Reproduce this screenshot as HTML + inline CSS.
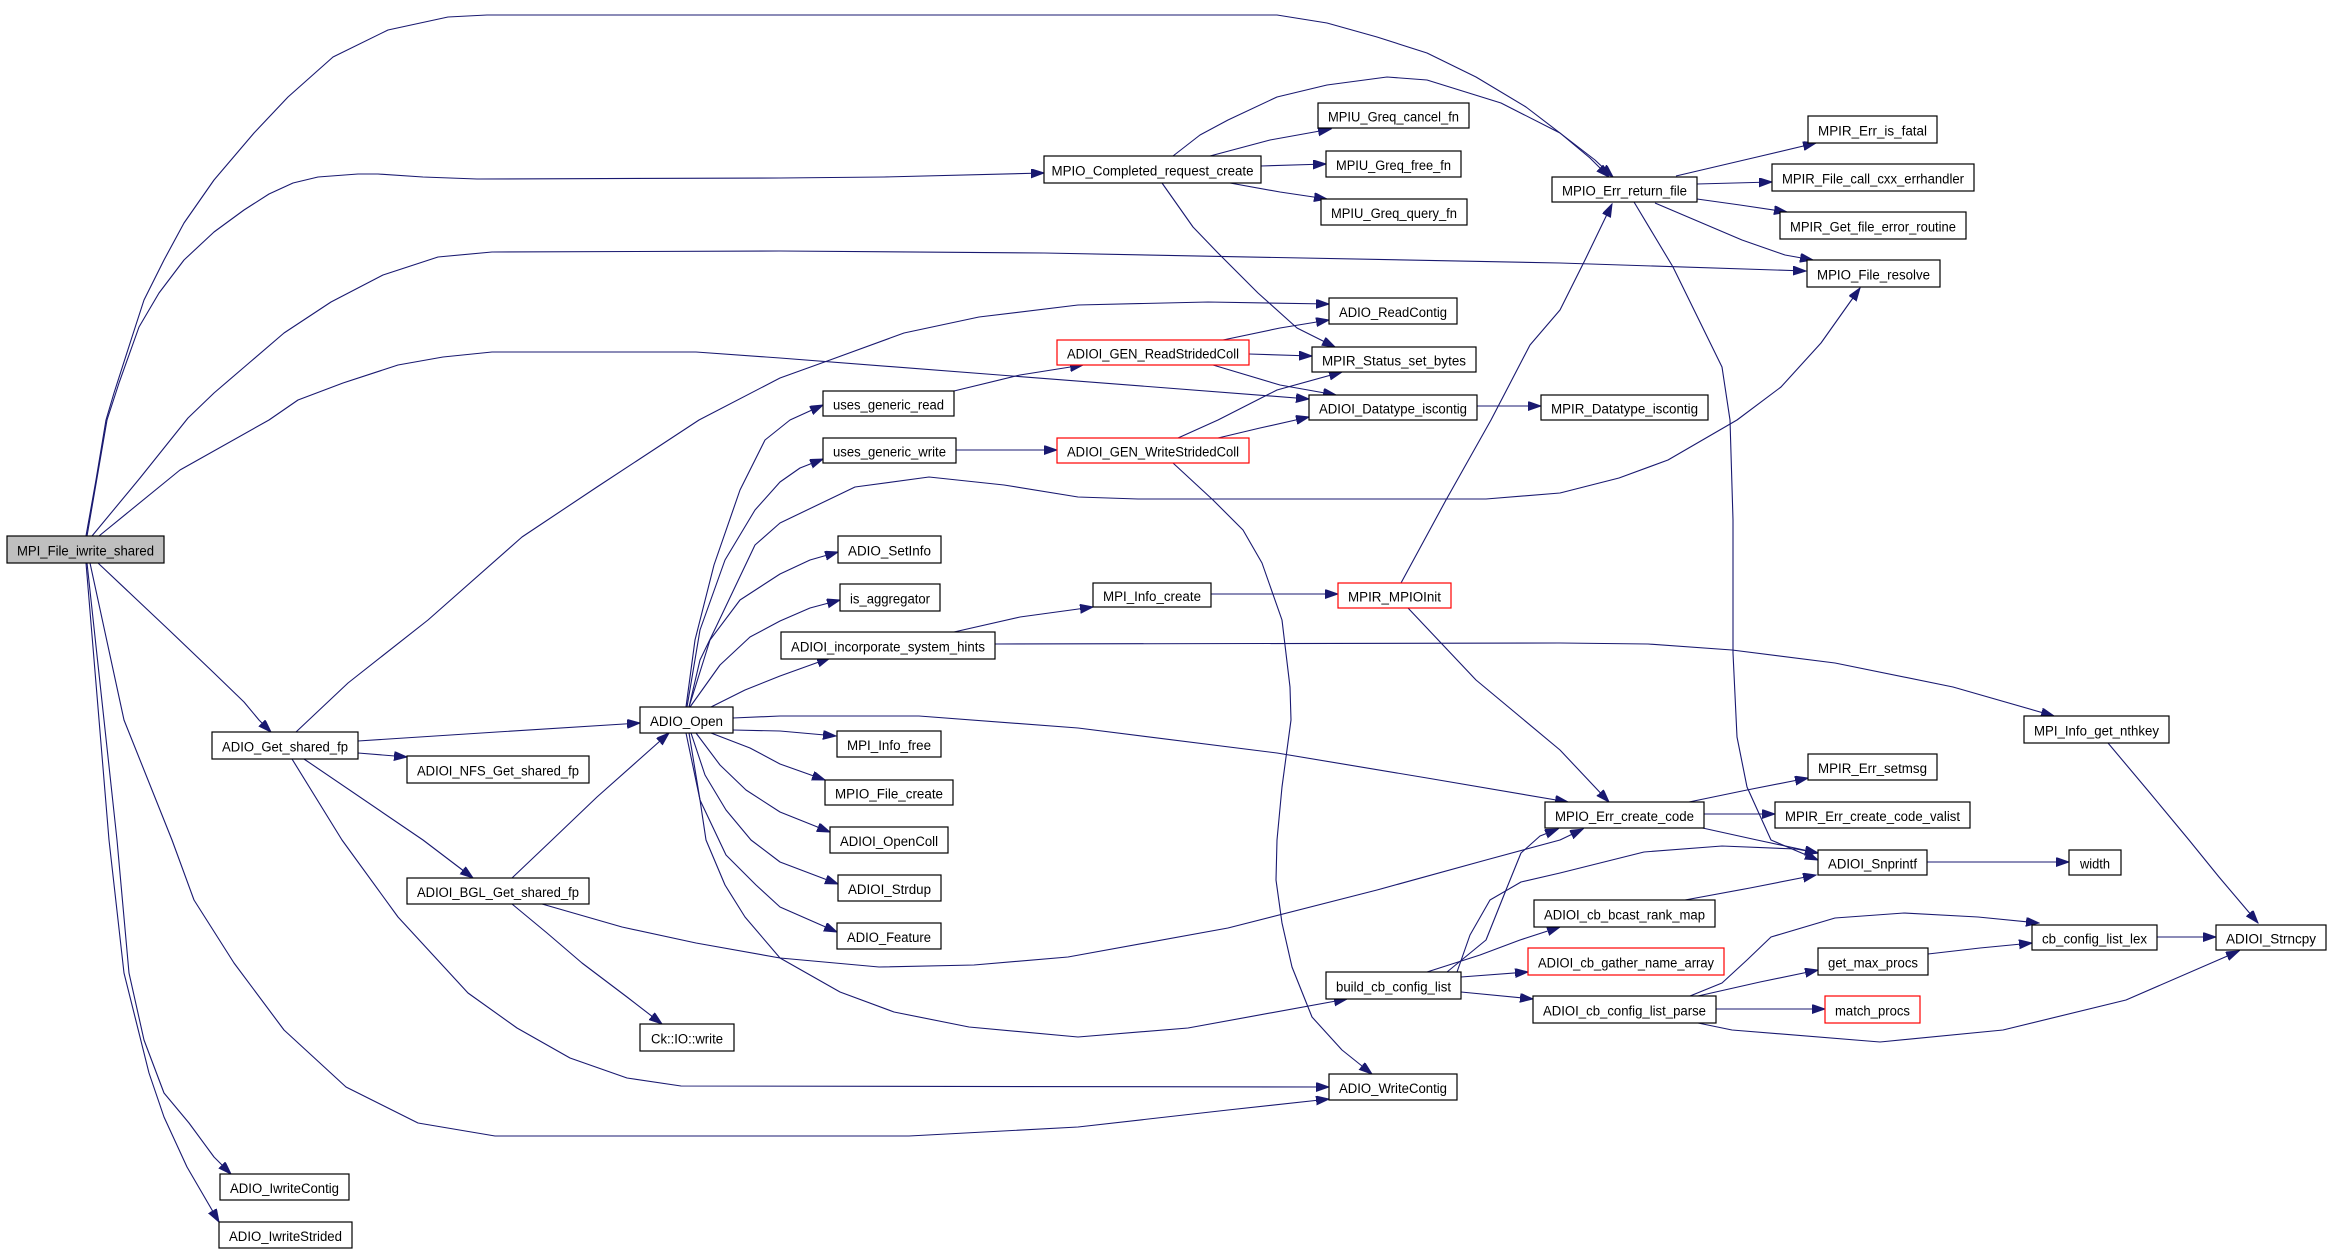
<!DOCTYPE html>
<html><head><meta charset="utf-8"><style>
html,body{margin:0;padding:0;background:#fff;}
svg{display:block;}
text{font-family:"Liberation Sans",Arial,sans-serif;font-size:13.5px;fill:#000;text-anchor:middle;}
</style></head><body>
<svg width="2331" height="1251" viewBox="0 0 2331 1251" xmlns="http://www.w3.org/2000/svg">
<defs>
<marker id="a" markerUnits="userSpaceOnUse" markerWidth="14" markerHeight="10" refX="13" refY="4.5" orient="auto" viewBox="0 0 14 10">
<path d="M0,0 L13,4.5 L0,9 z" fill="#191970" stroke="#191970" stroke-width="1"/>
</marker>
</defs>
<rect width="2331" height="1251" fill="#fff"/>
<g fill="none" stroke="#191970" stroke-width="1.1" stroke-linejoin="round" marker-end="url(#a)">
<!-- MPI_File_iwrite_shared edges -->
<path d="M86,536 L96,480 L106,420 L114,393 L132,337 L144,300 L164,260 L184,223 L214,180 L254,133 L288,97 L333,57 L388,30 L448,17 L487,15 L1277,15 L1327,23 L1377,37 L1427,53 L1476,77 L1526,107 L1560,133 L1590,158 L1609,177"/>
<path d="M87,536 L107,420 L119,383 L139,327 L159,293 L184,260 L214,232 L244,210 L269,194 L293,183 L318,177 L358,174 L378,174 L423,177 L477,179 L780,178 L884,177 L1044,173"/>
<path d="M92,536 L140,478 L188,418 L214,393 L249,363 L284,333 L331,302 L383,275 L438,257 L492,252 L780,251 L1044,253 L1560,263 L1806,271"/>
<path d="M99,536 L180,470 L269,420 L298,400 L343,383 L398,365 L443,357 L492,352 L696,352 L766,357 L780,358 L1309,399"/>
<path d="M98,563 L169,630 L214,673 L244,702 L259,720 L271,732"/>
<path d="M90,563 L124,720 L172,840 L194,900 L234,963 L284,1030 L346,1087 L418,1123 L495,1136 L909,1136 L1078,1127 L1228,1110 L1329,1099"/>
<path d="M87,563 L117,840 L129,973 L144,1040 L164,1093 L189,1123 L214,1157 L231,1174"/>
<path d="M86,563 L109,840 L124,973 L149,1073 L164,1117 L187,1167 L219,1222"/>
<!-- ADIO_Get_shared_fp -->
<path d="M358,741 L497,732 L640,723"/>
<path d="M358,753 L407,757"/>
<path d="M304,759 L423,840 L473,878"/>
<path d="M292,759 L342,840 L398,917 L468,993 L517,1028 L570,1058 L627,1078 L681,1086 L1329,1087"/>
<path d="M296,732 L348,683 L428,620 L522,537 L597,487 L699,420 L780,378 L830,360 L904,333 L979,317 L1078,305 L1208,302 L1329,304"/>
<!-- ADIOI_BGL_Get_shared_fp -->
<path d="M512,878 L552,840 L597,797 L669,733"/>
<path d="M512,904 L547,933 L582,963 L627,997 L662,1024"/>
<path d="M542,904 L622,927 L696,943 L780,958 L879,967 L974,965 L1068,957 L1228,928 L1377,890 L1486,860 L1560,840 L1583,829"/>
<!-- ADIO_Open -->
<path d="M686,707 L695,640 L714,565 L740,490 L765,440 L790,420 L823,405"/>
<path d="M687,707 L700,630 L725,560 L755,510 L780,482 L800,468 L823,459"/>
<path d="M689,707 L710,640 L740,600 L780,574 L810,560 L838,552"/>
<path d="M690,707 L720,665 L750,637 L780,621 L810,608 L840,600"/>
<path d="M711,707 L745,690 L780,676 L830,658"/>
<path d="M733,730 L780,731 L836,736"/>
<path d="M711,733 L750,748 L780,764 L825,780"/>
<path d="M696,733 L720,765 L746,790 L780,812 L830,832"/>
<path d="M691,733 L705,775 L726,810 L751,840 L780,862 L838,884"/>
<path d="M689,733 L700,800 L726,855 L756,885 L780,907 L837,932"/>
<path d="M686,733 L700,800 L706,840 L725,885 L745,917 L780,958 L840,992 L894,1012 L969,1027 L1078,1037 L1188,1028 L1347,999"/>
<path d="M733,718 L780,716 L919,716 L1078,728 L1277,753 L1427,778 L1568,802"/>
<path d="M689,707 L700,660 L716,627 L755,545 L780,523 L855,487 L929,477 L1004,485 L1078,497 L1138,499 L1486,499 L1560,493 L1619,478 L1668,460 L1737,420 L1781,387 L1821,343 L1860,288"/>
<!-- middle -->
<path d="M954,391 L1020,375 L1083,365"/>
<path d="M956,450 L1057,450"/>
<path d="M1223,340 L1280,328 L1329,320"/>
<path d="M1249,354 L1312,356"/>
<path d="M1213,365 L1280,385 L1336,395"/>
<path d="M1178,438 L1218,420 L1277,390 L1342,372"/>
<path d="M1218,438 L1260,428 L1309,417"/>
<path d="M1173,463 L1213,500 L1243,530 L1262,563 L1282,620 L1290,687 L1291,720 L1282,787 L1277,840 L1276,880 L1282,923 L1292,967 L1312,1017 L1342,1050 L1372,1074"/>
<path d="M1210,156 L1270,140 L1331,129"/>
<path d="M1261,166 L1326,164"/>
<path d="M1230,183 L1280,192 L1327,199"/>
<path d="M1173,156 L1200,135 L1228,120 L1277,97 L1327,85 L1387,77 L1427,80 L1501,103 L1560,133 L1595,160 L1613,177"/>
<path d="M1162,183 L1193,227 L1218,253 L1258,293 L1297,328 L1335,347"/>
<path d="M1477,406 L1541,406"/>
<path d="M1211,594 L1338,594"/>
<path d="M954,632 L1020,617 L1093,607"/>
<path d="M995,644 L1560,643 L1648,644 L1732,650 L1835,663 L1953,687 L2054,716"/>
<path d="M1401,583 L1446,500 L1491,420 L1530,345 L1560,310 L1585,260 L1612,204"/>
<path d="M1408,608 L1476,680 L1560,750 L1609,802"/>
<!-- right -->
<path d="M2108,743 L2150,793 L2189,840 L2219,877 L2258,923"/>
<path d="M1689,802 L1747,790 L1808,778"/>
<path d="M1704,814 L1775,814"/>
<path d="M1698,827 L1757,840 L1818,853"/>
<path d="M1927,862 L2069,862"/>
<path d="M1634,202 L1673,267 L1722,367 L1730,420 L1733,520 L1733,653 L1737,737 L1747,787 L1771,840 L1818,860"/>
<path d="M1676,176 L1757,157 L1816,143"/>
<path d="M1697,184 L1772,182"/>
<path d="M1697,199 L1740,205 L1787,212"/>
<path d="M1655,203 L1742,240 L1785,255 L1813,260"/>
<path d="M1447,972 L1486,940 L1506,890 L1521,853 L1540,836 L1558,829"/>
<path d="M1457,972 L1470,935 L1490,900 L1521,882 L1560,873 L1644,852 L1722,846 L1796,849 L1818,853"/>
<path d="M1427,972 L1480,955 L1520,940 L1560,927"/>
<path d="M1461,977 L1528,972"/>
<path d="M1461,992 L1533,999"/>
<path d="M1685,900 L1750,888 L1816,875"/>
<path d="M1698,996 L1760,982 L1818,970"/>
<path d="M1716,1009 L1825,1009"/>
<path d="M1690,996 L1722,983 L1747,960 L1771,937 L1835,918 L1904,913 L1978,917 L2039,923"/>
<path d="M1698,1023 L1732,1030 L1880,1042 L2003,1030 L2126,1000 L2239,951"/>
<path d="M1928,954 L1980,948 L2032,943"/>
<path d="M2157,937 L2216,937"/>
</g>
<g stroke="#000" stroke-width="1.2" fill="#fff">
<rect x="7" y="536" width="157" height="27" fill="#bfbfbf"/>
<rect x="212" y="732" width="146" height="27"/>
<rect x="407" y="756" width="182" height="27"/>
<rect x="407" y="878" width="182" height="26"/>
<rect x="640" y="707" width="93" height="26"/>
<rect x="640" y="1024" width="94" height="27"/>
<rect x="220" y="1174" width="129" height="26"/>
<rect x="219" y="1222" width="133" height="26"/>
<rect x="1044" y="156" width="217" height="27"/>
<rect x="1318" y="103" width="151" height="25"/>
<rect x="1326" y="151" width="135" height="26"/>
<rect x="1321" y="199" width="146" height="26"/>
<rect x="1329" y="298" width="128" height="26"/>
<rect x="1057" y="340" width="192" height="25" stroke="#ff0000"/>
<rect x="1312" y="347" width="164" height="25"/>
<rect x="823" y="391" width="131" height="25"/>
<rect x="1309" y="395" width="168" height="25"/>
<rect x="1541" y="395" width="167" height="25"/>
<rect x="1552" y="177" width="145" height="25"/>
<rect x="1808" y="116" width="129" height="27"/>
<rect x="1772" y="164" width="202" height="27"/>
<rect x="1780" y="212" width="186" height="27"/>
<rect x="1807" y="260" width="133" height="27"/>
<rect x="823" y="438" width="133" height="25"/>
<rect x="1057" y="438" width="192" height="25" stroke="#ff0000"/>
<rect x="838" y="536" width="103" height="27"/>
<rect x="840" y="584" width="100" height="27"/>
<rect x="1093" y="583" width="118" height="24"/>
<rect x="1338" y="583" width="113" height="25" stroke="#ff0000"/>
<rect x="781" y="632" width="214" height="27"/>
<rect x="837" y="731" width="104" height="26"/>
<rect x="825" y="780" width="128" height="25"/>
<rect x="830" y="827" width="118" height="26"/>
<rect x="838" y="875" width="103" height="26"/>
<rect x="837" y="923" width="104" height="26"/>
<rect x="1326" y="972" width="135" height="27"/>
<rect x="1329" y="1074" width="128" height="26"/>
<rect x="2024" y="716" width="145" height="27"/>
<rect x="1808" y="754" width="129" height="26"/>
<rect x="1545" y="802" width="159" height="26"/>
<rect x="1775" y="802" width="195" height="26"/>
<rect x="1818" y="850" width="109" height="25"/>
<rect x="2069" y="850" width="52" height="25"/>
<rect x="1534" y="900" width="181" height="27"/>
<rect x="1528" y="948" width="196" height="27" stroke="#ff0000"/>
<rect x="1533" y="996" width="183" height="27"/>
<rect x="1818" y="948" width="110" height="27"/>
<rect x="1825" y="996" width="95" height="27" stroke="#ff0000"/>
<rect x="2032" y="925" width="125" height="25"/>
<rect x="2216" y="925" width="110" height="25"/>
</g>
<g lengthAdjust="spacingAndGlyphs">
<text x="85.5" y="555.5" textLength="137" lengthAdjust="spacingAndGlyphs">MPI_File_iwrite_shared</text>
<text x="285" y="751.5" textLength="126" lengthAdjust="spacingAndGlyphs">ADIO_Get_shared_fp</text>
<text x="498" y="775.5" textLength="162" lengthAdjust="spacingAndGlyphs">ADIOI_NFS_Get_shared_fp</text>
<text x="498" y="897" textLength="162" lengthAdjust="spacingAndGlyphs">ADIOI_BGL_Get_shared_fp</text>
<text x="686.5" y="726" textLength="73" lengthAdjust="spacingAndGlyphs">ADIO_Open</text>
<text x="687" y="1043.5" textLength="72" lengthAdjust="spacingAndGlyphs">Ck::IO::write</text>
<text x="284.5" y="1193" textLength="109" lengthAdjust="spacingAndGlyphs">ADIO_IwriteContig</text>
<text x="285.5" y="1241" textLength="113" lengthAdjust="spacingAndGlyphs">ADIO_IwriteStrided</text>
<text x="1152.5" y="175.5" textLength="202" lengthAdjust="spacingAndGlyphs">MPIO_Completed_request_create</text>
<text x="1393.5" y="121.5" textLength="131" lengthAdjust="spacingAndGlyphs">MPIU_Greq_cancel_fn</text>
<text x="1393.5" y="170" textLength="115" lengthAdjust="spacingAndGlyphs">MPIU_Greq_free_fn</text>
<text x="1394" y="218" textLength="126" lengthAdjust="spacingAndGlyphs">MPIU_Greq_query_fn</text>
<text x="1393" y="317" textLength="108" lengthAdjust="spacingAndGlyphs">ADIO_ReadContig</text>
<text x="1153" y="358.5" textLength="172" lengthAdjust="spacingAndGlyphs">ADIOI_GEN_ReadStridedColl</text>
<text x="1394" y="365.5" textLength="144" lengthAdjust="spacingAndGlyphs">MPIR_Status_set_bytes</text>
<text x="888.5" y="409.5" textLength="111" lengthAdjust="spacingAndGlyphs">uses_generic_read</text>
<text x="1393" y="413.5" textLength="148" lengthAdjust="spacingAndGlyphs">ADIOI_Datatype_iscontig</text>
<text x="1624.5" y="413.5" textLength="147" lengthAdjust="spacingAndGlyphs">MPIR_Datatype_iscontig</text>
<text x="1624.5" y="195.5" textLength="125" lengthAdjust="spacingAndGlyphs">MPIO_Err_return_file</text>
<text x="1872.5" y="135.5" textLength="109" lengthAdjust="spacingAndGlyphs">MPIR_Err_is_fatal</text>
<text x="1873" y="183.5" textLength="182" lengthAdjust="spacingAndGlyphs">MPIR_File_call_cxx_errhandler</text>
<text x="1873" y="231.5" textLength="166" lengthAdjust="spacingAndGlyphs">MPIR_Get_file_error_routine</text>
<text x="1873.5" y="279.5" textLength="113" lengthAdjust="spacingAndGlyphs">MPIO_File_resolve</text>
<text x="889.5" y="456.5" textLength="113" lengthAdjust="spacingAndGlyphs">uses_generic_write</text>
<text x="1153" y="456.5" textLength="172" lengthAdjust="spacingAndGlyphs">ADIOI_GEN_WriteStridedColl</text>
<text x="889.5" y="555.5" textLength="83" lengthAdjust="spacingAndGlyphs">ADIO_SetInfo</text>
<text x="890" y="603.5" textLength="80" lengthAdjust="spacingAndGlyphs">is_aggregator</text>
<text x="1152" y="601" textLength="98" lengthAdjust="spacingAndGlyphs">MPI_Info_create</text>
<text x="1394.5" y="601.5" textLength="93" lengthAdjust="spacingAndGlyphs">MPIR_MPIOInit</text>
<text x="888" y="651.5" textLength="194" lengthAdjust="spacingAndGlyphs">ADIOI_incorporate_system_hints</text>
<text x="889" y="750" textLength="84" lengthAdjust="spacingAndGlyphs">MPI_Info_free</text>
<text x="889" y="798.5" textLength="108" lengthAdjust="spacingAndGlyphs">MPIO_File_create</text>
<text x="889" y="846" textLength="98" lengthAdjust="spacingAndGlyphs">ADIOI_OpenColl</text>
<text x="889.5" y="894" textLength="83" lengthAdjust="spacingAndGlyphs">ADIOI_Strdup</text>
<text x="889" y="942" textLength="84" lengthAdjust="spacingAndGlyphs">ADIO_Feature</text>
<text x="1393.5" y="991.5" textLength="115" lengthAdjust="spacingAndGlyphs">build_cb_config_list</text>
<text x="1393" y="1093" textLength="108" lengthAdjust="spacingAndGlyphs">ADIO_WriteContig</text>
<text x="2096.5" y="735.5" textLength="125" lengthAdjust="spacingAndGlyphs">MPI_Info_get_nthkey</text>
<text x="1872.5" y="773" textLength="109" lengthAdjust="spacingAndGlyphs">MPIR_Err_setmsg</text>
<text x="1624.5" y="821" textLength="139" lengthAdjust="spacingAndGlyphs">MPIO_Err_create_code</text>
<text x="1872.5" y="821" textLength="175" lengthAdjust="spacingAndGlyphs">MPIR_Err_create_code_valist</text>
<text x="1872.5" y="868.5" textLength="89" lengthAdjust="spacingAndGlyphs">ADIOI_Snprintf</text>
<text x="2095" y="868.5" textLength="30" lengthAdjust="spacingAndGlyphs">width</text>
<text x="1624.5" y="919.5" textLength="161" lengthAdjust="spacingAndGlyphs">ADIOI_cb_bcast_rank_map</text>
<text x="1626" y="967.5" textLength="176" lengthAdjust="spacingAndGlyphs">ADIOI_cb_gather_name_array</text>
<text x="1624.5" y="1015.5" textLength="163" lengthAdjust="spacingAndGlyphs">ADIOI_cb_config_list_parse</text>
<text x="1873" y="967.5" textLength="90" lengthAdjust="spacingAndGlyphs">get_max_procs</text>
<text x="1872.5" y="1015.5" textLength="75" lengthAdjust="spacingAndGlyphs">match_procs</text>
<text x="2094.5" y="943.5" textLength="105" lengthAdjust="spacingAndGlyphs">cb_config_list_lex</text>
<text x="2271" y="943.5" textLength="90" lengthAdjust="spacingAndGlyphs">ADIOI_Strncpy</text>
</g>
</svg>
</body></html>
